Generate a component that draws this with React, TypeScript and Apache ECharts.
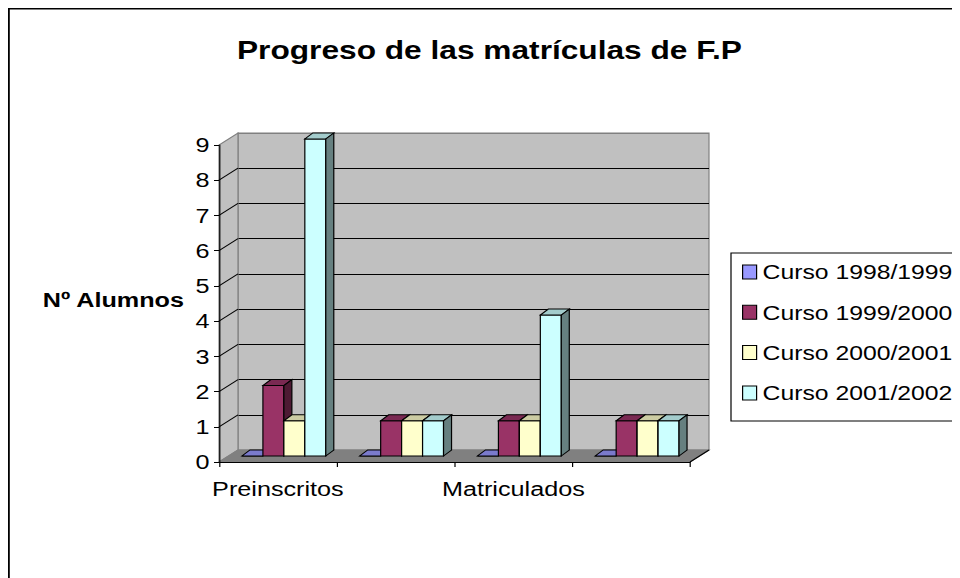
import React, { useEffect, useRef } from 'react';
import * as echarts from 'echarts';

// ---- data ----
const CATEGORIES = ['Preinscritos', '', 'Matriculados', ''];
const SERIES_NAMES = ['Curso 1998/1999', 'Curso 1999/2000', 'Curso 2000/2001', 'Curso 2001/2002'];
const CURSO_1998_1999 = [0, 0, 0, 0];
const CURSO_1999_2000 = [2, 1, 1, 1];
const CURSO_2000_2001 = [1, 1, 1, 1];
const CURSO_2001_2002 = [9, 1, 4, 1];
const SERIES_VALUES = [CURSO_1998_1999, CURSO_1999_2000, CURSO_2000_2001, CURSO_2001_2002];
const Y_MIN = 0;
const Y_MAX = 9;
const Y_INTERVAL = 1;
const TITLE = 'Progreso de las matrículas de F.P';
const Y_NAME = 'Nº Alumnos';

// ---- styles / layout ----
const COLORS = ['#9999FF', '#993366', '#FFFFCC', '#CCFFFF'];
const FONT = '"Liberation Sans", Arial, sans-serif';
const SX = 1.2; // horizontal stretch of the original picture
const W = 952 / SX;
const H = 570;
const px = (x: number) => (x - 8) / SX;
const py = (y: number) => y - 8;

const GL = px(219);
const GR = px(690);
const GT = py(145);
const GB = py(462);
const GW = GR - GL;
const GH = GB - GT;
const DX = 19 / SX;
const DY = -12;
const BAR_FRAC = 21 / 118;
const BOFF_X = 6 / SX;
const BOFF_Y = -6;
const TX = 8 / SX;
const TY = -6;

function shade(hex: string, f: number) {
  const n = parseInt(hex.slice(1), 16);
  const r = Math.round(((n >> 16) & 255) * f);
  const g = Math.round(((n >> 8) & 255) * f);
  const b = Math.round((n & 255) * f);
  return `rgb(${r},${g},${b})`;
}

const makeRender = (s: number) => (params: any, api: any) => {
  const c = api.value(0);
  const v = api.value(1);
  const base = api.coord([c, 0]);
  const top = api.coord([c, v]);
  const band = api.size([1, 0])[0];
  const bw = band * BAR_FRAC;
  const l = base[0] + BOFF_X + (s - 2) * bw;
  const r = l + bw;
  const yb = base[1] + BOFF_Y;
  const yt = top[1] + BOFF_Y;
  const col = COLORS[s];
  const st = { stroke: '#000', lineWidth: 1 };
  return {
    type: 'group',
    children: [
      { type: 'polygon', shape: { points: [[l, yb], [r, yb], [r, yt], [l, yt]] }, style: { fill: col, ...st } },
      { type: 'polygon', shape: { points: [[l, yt], [r, yt], [r + TX, yt + TY], [l + TX, yt + TY]] }, style: { fill: shade(col, 0.8), ...st } },
      { type: 'polygon', shape: { points: [[r, yt], [r, yb], [r + TX, yb + TY], [r + TX, yt + TY]] }, style: { fill: shade(col, 0.5), ...st } },
    ],
  };
};

export default function App() {
  const ref = useRef<HTMLDivElement>(null);
  useEffect(() => {
    const chart = echarts.init(ref.current!, null, { renderer: 'svg' });
    const unit = GH / (Y_MAX - Y_MIN);
    const diagonals: any[] = [];
    for (let v = Y_MIN + Y_INTERVAL; v < Y_MAX; v += Y_INTERVAL) {
      const y = GB - (v - Y_MIN) * unit;
      diagonals.push({
        type: 'line', z: 1,
        shape: { x1: GL, y1: y, x2: GL + DX, y2: y + DY },
        style: { stroke: '#000', lineWidth: 1 },
      });
    }
    const splitColors = [] as string[];
    for (let v = Y_MIN; v <= Y_MAX; v += Y_INTERVAL) {
      splitColors.push(v === Y_MIN || v === Y_MAX ? '#808080' : '#000');
    }
    chart.setOption({
      animation: false,
      backgroundColor: '#fff',
      textStyle: { fontFamily: FONT },
      title: {
        text: TITLE, left: px(237), top: 29, padding: 0,
        textStyle: { fontSize: 26.4, fontWeight: 'bold', color: '#000', fontFamily: FONT },
      },
      legend: {
        orient: 'vertical', left: px(742), top: 252, padding: 0,
        itemWidth: 14 / SX, itemHeight: 14, itemGap: 16.3, icon: 'rect',
        itemStyle: { borderColor: '#000', borderWidth: 1 },
        textStyle: { fontSize: 20.6, color: '#000', fontFamily: FONT, lineHeight: 24 },
        data: SERIES_NAMES,
      },
      grid: [
        { left: GL, top: GT, width: GW, height: GH, show: false },
        { left: GL + DX, top: GT + DY, width: GW, height: GH, show: true, backgroundColor: '#C0C0C0', borderColor: '#808080', borderWidth: 1, z: 0 },
      ],
      xAxis: [
        {
          type: 'category', gridIndex: 0, data: CATEGORIES, z: 3,
          axisLine: { show: true, lineStyle: { color: '#000', width: 1 } },
          axisTick: { show: true, length: 5, lineStyle: { color: '#000' } },
          axisLabel: { interval: 0, fontSize: 21, color: '#000', margin: 16, fontFamily: FONT },
          splitLine: { show: false },
        },
        { type: 'category', gridIndex: 1, data: CATEGORIES, show: false },
      ],
      yAxis: [
        {
          type: 'value', gridIndex: 0, min: Y_MIN, max: Y_MAX, interval: Y_INTERVAL, z: 3,
          axisLine: { show: true, lineStyle: { color: '#000', width: 1 } },
          axisTick: { show: true, length: 5 / SX, lineStyle: { color: '#000' } },
          axisLabel: { fontSize: 21, color: '#000', margin: 8, fontFamily: FONT },
          splitLine: { show: false },
        },
        {
          type: 'value', gridIndex: 1, min: Y_MIN, max: Y_MAX, interval: Y_INTERVAL,
          axisLine: { show: false }, axisTick: { show: false }, axisLabel: { show: false },
          splitLine: { show: true, lineStyle: { color: splitColors, width: 1 } },
        },
      ],
      graphic: [
        { type: 'rect', z: 0, shape: { x: 0.75, y: 0.75, width: W + 200, height: H + 200 }, style: { fill: 'none', stroke: '#000', lineWidth: 1.5 } },
        { type: 'rect', z: 0, shape: { x: px(731), y: py(253), width: 400, height: 168 }, style: { fill: 'none', stroke: '#000', lineWidth: 1 } },
        { type: 'polygon', z: 1, shape: { points: [[GL, GB], [GL, GT], [GL + DX, GT + DY], [GL + DX, GB + DY]] }, style: { fill: '#C0C0C0', stroke: '#808080', lineWidth: 1 } },
        { type: 'polygon', z: 1, shape: { points: [[GL, GB], [GR, GB], [GR + DX, GB + DY], [GL + DX, GB + DY]] }, style: { fill: '#808080', stroke: '#808080', lineWidth: 1 } },
        { type: 'line', z: 1, shape: { x1: GR, y1: GB, x2: GR + DX, y2: GB + DY }, style: { stroke: '#000', lineWidth: 1 } },
        ...diagonals,
        {
          type: 'text', z: 3, x: px(184), y: py(299.5),
          style: { text: Y_NAME, fill: '#000', font: `bold 21px ${FONT}`, align: 'right', verticalAlign: 'middle' },
        },
      ],
      series: SERIES_VALUES.map((vals, s) => ({
        type: 'custom',
        name: SERIES_NAMES[s],
        xAxisIndex: 0, yAxisIndex: 0, z: 2,
        itemStyle: { color: COLORS[s], borderColor: '#000', borderWidth: 1 },
        renderItem: makeRender(s),
        encode: { x: 0, y: 1 },
        data: vals.map((v, i) => [i, v]),
      })),
    });
    return () => chart.dispose();
  }, []);
  return (
    <div
      ref={ref}
      style={{ width: W, height: H, transform: `scaleX(${SX})`, transformOrigin: '0 0' }}
    />
  );
}
